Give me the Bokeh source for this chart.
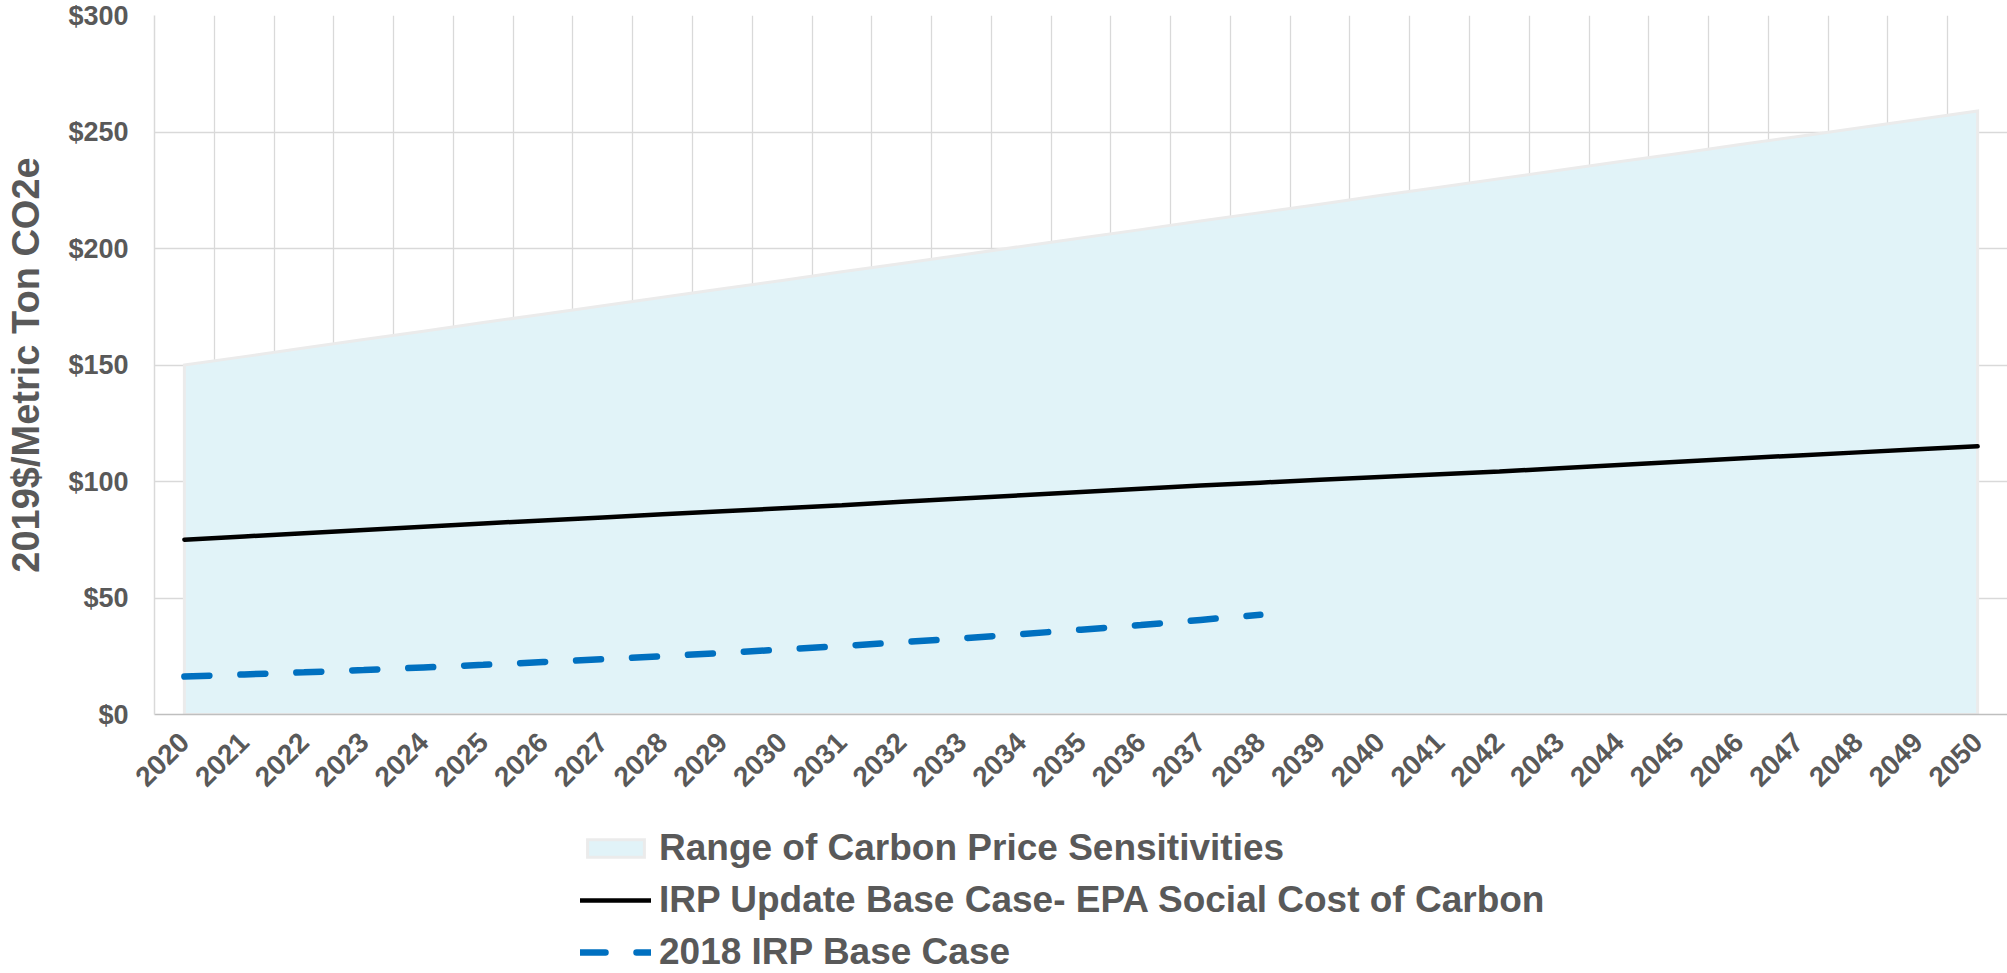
import math
from bokeh.plotting import figure
from bokeh.layouts import column
from bokeh.models import (Range1d, FixedTicker, Legend, LegendItem,
                          NumeralTickFormatter, ColumnDataSource)
from bokeh.embed import file_html
from bokeh.resources import INLINE

# ---- data ----
years = list(range(2020, 2051))
range_upper = [150.0, 153.6, 157.3, 160.9, 164.5, 168.2, 171.8, 175.4, 179.1, 182.7,
               186.3, 190.0, 193.6, 197.2, 200.9, 204.5, 208.1, 211.8, 215.4, 219.0,
               222.7, 226.3, 229.9, 233.6, 237.2, 240.8, 244.5, 248.1, 251.7, 255.4, 259.0]
range_lower = [0.0] * len(years)
irp_update = [75.0, 76.4, 77.8, 79.2, 80.6, 82.0, 83.3, 84.6, 85.9, 87.2,
              88.5, 89.8, 91.3, 92.7, 94.1, 95.5, 96.9, 98.3, 99.5, 100.7,
              101.9, 103.1, 104.3, 105.7, 107.1, 108.5, 109.9, 111.2, 112.5, 113.8, 115.1]
years_2018 = list(range(2020, 2039))
irp_2018 = [16.3, 17.2, 18.1, 19.1, 20.2, 21.3, 22.5, 23.7, 25.0, 26.4,
            27.9, 29.4, 31.0, 32.7, 34.5, 36.4, 38.4, 40.6, 42.8]
y_ticks = [0, 50, 100, 150, 200, 250, 300]

label_range = "Range of Carbon Price Sensitivities"
label_update = "IRP Update Base Case- EPA Social Cost of Carbon"
label_2018 = "2018 IRP Base Case"
y_title = "2019$/Metric Ton CO2e"

FONT = "Liberation Sans"
GRAY = "#595959"
GRID = "#D9D9D9"

AREA_STYLE = dict(fill_color="#E1F3F8", line_color="#EBEBEB", line_width=3, line_join="miter")
UPDATE_STYLE = dict(line_color="black", line_width=4.5, line_cap="round")
IRP18_STYLE = dict(line_color="#0070C0", line_width=6.5, line_dash="25 31", line_cap="round")

TOTAL_W, TOTAL_H = 2007, 973
MAIN_H = 800

p = figure(width=TOTAL_W, height=MAIN_H, output_backend="svg", toolbar_location=None,
           x_range=Range1d(years[0] - 0.5, years[-1] + 0.5),
           y_range=Range1d(y_ticks[0], y_ticks[-1]),
           min_border_left=154, min_border_right=0,
           min_border_top=15, min_border_bottom=86)
p.outline_line_color = None
p.background_fill_color = "white"
p.border_fill_color = "white"

# area (range of sensitivities)
area_src = ColumnDataSource(dict(x=years + years[::-1], y=range_upper + range_lower[::-1]))
p.patch("x", "y", source=area_src, **AREA_STYLE)

# IRP update base case
p.line(years, irp_update, **UPDATE_STYLE)

# 2018 IRP base case
p.line(years_2018, irp_2018, **IRP18_STYLE)

# axes
p.xaxis.ticker = FixedTicker(ticks=years)
p.xaxis.major_label_orientation = math.pi / 4
p.xaxis.major_label_text_font = FONT
p.xaxis.major_label_text_font_style = "bold"
p.xaxis.major_label_text_font_size = "28px"
p.xaxis.major_label_text_color = GRAY
p.xaxis.major_label_standoff = 17
p.xaxis.major_tick_line_color = None
p.xaxis.minor_tick_line_color = None
p.xaxis.axis_line_color = "#BFBFBF"
p.xaxis.axis_line_width = 1.5

p.yaxis.ticker = FixedTicker(ticks=y_ticks)
p.yaxis.formatter = NumeralTickFormatter(format="$0")
p.yaxis.major_label_text_font = FONT
p.yaxis.major_label_text_font_style = "bold"
p.yaxis.major_label_text_font_size = "27px"
p.yaxis.major_label_text_color = GRAY
p.yaxis.major_label_standoff = 20
p.yaxis.major_tick_line_color = None
p.yaxis.minor_tick_line_color = None
p.yaxis.axis_line_color = GRID
p.yaxis.axis_line_width = 1.5
p.yaxis.axis_label = y_title
p.yaxis.axis_label_text_font = FONT
p.yaxis.axis_label_text_font_style = "bold"
p.yaxis.axis_label_text_font_size = "38px"
p.yaxis.axis_label_text_color = GRAY
p.yaxis.axis_label_standoff = 18

# grids
p.ygrid.ticker = FixedTicker(ticks=y_ticks)
p.ygrid.grid_line_color = GRID
p.ygrid.grid_line_width = 1.3
p.xgrid.ticker = FixedTicker(ticks=[y - 0.5 for y in years] + [years[-1] + 0.5])
p.xgrid.grid_line_color = GRID
p.xgrid.grid_line_width = 1.3

# ---- legend strip below the chart ----
# its proxy renderers reuse the series data, which lies outside this strip's 0..1 view
leg = figure(width=TOTAL_W, height=TOTAL_H - MAIN_H, output_backend="svg",
             toolbar_location=None, x_axis_type=None, y_axis_type=None,
             x_range=Range1d(0, 1), y_range=Range1d(0, 1),
             min_border=0)
leg.outline_line_color = None
leg.grid.visible = False
leg.background_fill_color = "white"
leg.border_fill_color = "white"

l_area = leg.patch("x", "y", source=area_src, **AREA_STYLE)
l_update = leg.line(years, irp_update, **UPDATE_STYLE)
l_2018 = leg.line(years_2018, irp_2018, **IRP18_STYLE)

legend = Legend(items=[LegendItem(label=label_range, renderers=[l_area]),
                       LegendItem(label=label_update, renderers=[l_update]),
                       LegendItem(label=label_2018, renderers=[l_2018])],
                location=(426, 0), orientation="vertical")
legend.background_fill_alpha = 0
legend.border_line_color = None
legend.padding = 0
legend.margin = 0
legend.spacing = 10
legend.glyph_width = 71
legend.glyph_height = 22
legend.label_height = 36
legend.label_standoff = 8
legend.label_text_font = FONT
legend.label_text_font_style = "bold"
legend.label_text_font_size = "37px"
legend.label_text_color = GRAY
leg.add_layout(legend)

layout = column(p, leg, spacing=0)
open("out.html", "w").write(file_html(layout, INLINE))
